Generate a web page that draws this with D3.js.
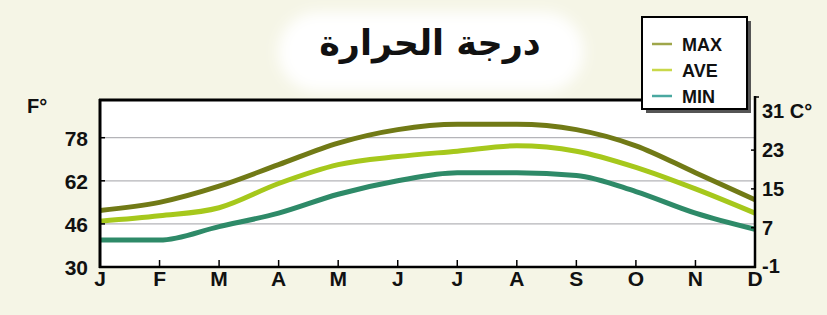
<!DOCTYPE html>
<html><head><meta charset="utf-8">
<script src="https://cdn.jsdelivr.net/npm/d3@7"></script>
<style>
html,body{margin:0;padding:0;background:#f5f5e6;}
svg{display:block;}
</style></head>
<body>
<script>
const months = ["J","F","M","A","M","J","J","A","S","O","N","D"];
const maxF = [51, 54, 60, 68, 76, 81, 83, 83, 81, 75, 65, 55];
const aveF = [47, 49, 52, 61, 68, 71, 73, 75, 73, 67, 59, 50];
const minF = [40, 40, 45, 50, 57, 62, 65, 65, 64, 58, 50, 44];
const fTicks = [78, 62, 46, 30];
const cTicks = [31, 23, 15, 7, -1];
const seriesNames = ["MAX","AVE","MIN"];
const seriesColors = ["#717a16","#a6c81c","#2e8a68"];
const legendColors = ["#9fa64a","#c9d84a","#4aa8a0"];
const title = "درجة الحرارة";

const W = 827, H = 315;
const svg = d3.select("body").append("svg").attr("width", W).attr("height", H);

svg.append("rect").attr("width", W).attr("height", H).attr("fill", "#f5f5e6");

// title blob
const defs = svg.append("defs");
defs.append("filter").attr("id","blur").attr("x","-20%").attr("y","-40%").attr("width","140%").attr("height","180%")
  .append("feGaussianBlur").attr("stdDeviation", 7);
svg.append("rect").attr("x", 278).attr("y", 12).attr("width", 306).attr("height", 80)
  .attr("rx", 40).attr("fill", "#ffffff").attr("filter", "url(#blur)");

svg.append("text").attr("x", 430).attr("y", 55).attr("text-anchor", "middle")
  .attr("font-family", "DejaVu Sans, Noto Sans").attr("font-weight", "bold").attr("font-size", 35).attr("fill", "#111")
  .attr("direction", "rtl").text(title);

const L = 100, R = 755, T = 100, B = 267;
const x = d3.scalePoint().domain(d3.range(12)).range([L, R]);
const y = d3.scaleLinear().domain([30, 92]).range([B, T]);
const yC = d3.scaleLinear().domain([(30-32)/1.8, (92-32)/1.8]).range([B, T]);

// plot background
svg.append("rect").attr("x", L).attr("y", T).attr("width", R - L).attr("height", B - T).attr("fill", "#ffffff");

// gridlines
svg.append("g").selectAll("line").data(fTicks.filter(d => d > 30)).join("line")
  .attr("x1", L).attr("x2", R).attr("y1", d => y(d)).attr("y2", d => y(d))
  .attr("stroke", "#b4b4b8").attr("stroke-width", 1.2);

// lines
const line = d3.line().x((d, i) => x(i)).y(d => y(d)).curve(d3.curveMonotoneX);
[maxF, aveF, minF].forEach((s, k) => {
  svg.append("path").datum(s).attr("d", line).attr("fill", "none")
    .attr("stroke", seriesColors[k]).attr("stroke-width", 5).attr("stroke-linejoin", "round");
});

// axes frame
svg.append("line").attr("x1", L).attr("x2", L).attr("y1", T - 1).attr("y2", B + 1).attr("stroke", "#000").attr("stroke-width", 3);
svg.append("line").attr("x1", L - 1).attr("x2", R + 1).attr("y1", B).attr("y2", B).attr("stroke", "#000").attr("stroke-width", 2.5);
svg.append("line").attr("x1", L - 1).attr("x2", 745).attr("y1", T).attr("y2", T).attr("stroke", "#000").attr("stroke-width", 3);
svg.append("line").attr("x1", R).attr("x2", R).attr("y1", 96).attr("y2", B + 1).attr("stroke", "#000").attr("stroke-width", 2.5);
svg.append("line").attr("x1", R).attr("x2", R + 4).attr("y1", 97).attr("y2", 97).attr("stroke", "#000").attr("stroke-width", 1.5);

// x ticks
svg.append("g").selectAll("line").data(d3.range(1, 11)).join("line")
  .attr("x1", d => x(d)).attr("x2", d => x(d)).attr("y1", B).attr("y2", B - 7)
  .attr("stroke", "#000").attr("stroke-width", 1.5);
// left ticks
svg.append("g").selectAll("line").data(fTicks.filter(d => d > 30)).join("line")
  .attr("x1", L).attr("x2", L + 5).attr("y1", d => y(d)).attr("y2", d => y(d))
  .attr("stroke", "#000").attr("stroke-width", 1.5);
// right ticks
svg.append("g").selectAll("line").data(cTicks.filter(d => d > -1 && d < 31)).join("line")
  .attr("x1", R).attr("x2", R - 4).attr("y1", d => yC(d)).attr("y2", d => yC(d))
  .attr("stroke", "#000").attr("stroke-width", 1.5);

const fnt = "Liberation Sans Narrow, Arial Narrow, sans-serif";
// month labels
svg.append("g").selectAll("text").data(months).join("text")
  .attr("x", (d, i) => x(i)).attr("y", 286).attr("text-anchor", "middle")
  .attr("font-family", fnt).attr("font-weight", "bold").attr("font-size", 21).attr("fill", "#111")
  .text(d => d);
// left labels
svg.append("g").selectAll("text").data(fTicks).join("text")
  .attr("x", 88).attr("y", d => y(d) + 8).attr("text-anchor", "end")
  .attr("font-family", fnt).attr("font-weight", "bold").attr("font-size", 21).attr("fill", "#111")
  .text(d => d);
svg.append("text").attr("x", 27).attr("y", 113).attr("font-family", fnt).attr("font-weight", "bold")
  .attr("font-size", 20).attr("fill", "#111").text("F°");
// right labels
svg.append("g").selectAll("text").data(cTicks).join("text")
  .attr("x", 762).attr("y", d => yC(d) + 7).attr("text-anchor", "start")
  .attr("font-family", fnt).attr("font-weight", "bold").attr("font-size", 20).attr("fill", "#111")
  .text(d => d === 31 ? "31 C°" : d);

// legend
const lg = svg.append("g");
lg.append("rect").attr("x", 646).attr("y", 21).attr("width", 105).attr("height", 92).attr("fill", "#555");
lg.append("rect").attr("x", 642).attr("y", 17).attr("width", 105).attr("height", 92)
  .attr("fill", "#fff").attr("stroke", "#000").attr("stroke-width", 2);
seriesNames.forEach((n, k) => {
  const yy = 44 + k * 26;
  lg.append("line").attr("x1", 652).attr("x2", 672).attr("y1", yy).attr("y2", yy)
    .attr("stroke", legendColors[k]).attr("stroke-width", 2.5);
  lg.append("text").attr("x", 682).attr("y", yy + 7)
    .attr("font-family", fnt).attr("font-weight", "bold").attr("font-size", 18).attr("fill", "#111").text(n);
});
</script>
</body></html>
